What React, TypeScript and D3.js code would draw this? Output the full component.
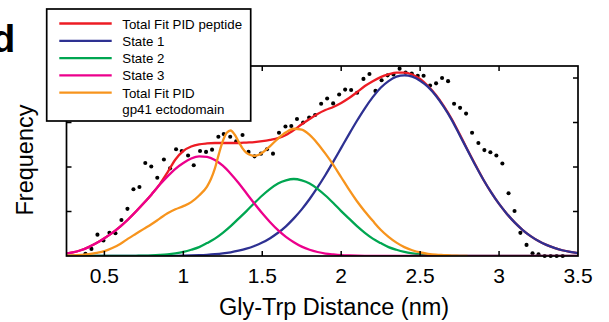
import React from "react";
import * as d3 from "d3";

// ---------- data ----------
const curveX = [0.25,0.3,0.35,0.4,0.45,0.5,0.55,0.6,0.65,0.7,0.75,0.8,0.85,0.9,0.95,1.0,1.05,1.1,1.15,1.2,1.25,1.3,1.35,1.4,1.45,1.5,1.55,1.6,1.65,1.7,1.75,1.8,1.85,1.9,1.95,2.0,2.05,2.1,2.15,2.2,2.25,2.3,2.35,2.4,2.45,2.5,2.55,2.6,2.65,2.7,2.75,2.8,2.85,2.9,2.95,3.0,3.05,3.1,3.15,3.2,3.25,3.3,3.35,3.4,3.45,3.5];

const totalPeptide = [0.05,0.08,0.13,0.2,0.29,0.4,0.52,0.66,0.82,1.0,1.19,1.39,1.61,1.88,2.17,2.36,2.46,2.51,2.53,2.54,2.54,2.54,2.54,2.55,2.56,2.58,2.61,2.65,2.72,2.83,2.96,3.08,3.19,3.28,3.35,3.44,3.55,3.68,3.82,3.93,4.02,4.08,4.12,4.12,4.08,3.98,3.82,3.62,3.37,3.08,2.74,2.39,2.05,1.72,1.43,1.17,0.946,0.75,0.584,0.447,0.336,0.249,0.181,0.129,0.091,0.063];

const state1 = [0,0,0,0,0,0,0,0,0,0,0,0,0,0.003,0.005,0.008,0.012,0.018,0.027,0.04,0.058,0.084,0.119,0.164,0.225,0.302,0.401,0.522,0.668,0.845,1.048,1.28,1.54,1.82,2.12,2.43,2.74,3.04,3.32,3.57,3.78,3.93,4.03,4.06,4.03,3.94,3.8,3.6,3.35,3.06,2.72,2.38,2.04,1.72,1.43,1.17,0.946,0.75,0.584,0.447,0.336,0.249,0.181,0.129,0.091,0.063];

const state2 = [0,0,0,0,0,0,0,0.001,0.002,0.005,0.008,0.014,0.024,0.038,0.061,0.093,0.14,0.2,0.29,0.39,0.52,0.67,0.84,1.01,1.19,1.36,1.51,1.63,1.7,1.73,1.7,1.63,1.51,1.36,1.19,1.01,0.84,0.67,0.52,0.39,0.29,0.2,0.14,0.093,0.061,0.038,0.024,0.014,0.008,0.005,0.002,0.001,0,0,0,0,0,0,0,0,0,0,0,0,0,0];

const state3 = [0.05,0.08,0.13,0.2,0.29,0.4,0.52,0.66,0.82,1.0,1.19,1.39,1.6,1.79,1.96,2.09,2.19,2.24,2.23,2.16,2.03,1.85,1.64,1.41,1.18,0.96,0.76,0.58,0.43,0.31,0.21,0.14,0.09,0.055,0.035,0.02,0.012,0.007,0.004,0.002,0,0,0,0,0,0,0,0,0,0,0,0,0,0,0,0,0,0,0,0,0,0,0,0,0,0];

const gp41X = [0.25,0.3,0.35,0.4,0.45,0.5,0.55,0.6,0.65,0.7,0.75,0.8,0.85,0.9,0.95,1.0,1.05,1.1,1.15,1.175,1.2,1.225,1.25,1.275,1.3,1.325,1.35,1.375,1.4,1.425,1.45,1.475,1.5,1.55,1.6,1.65,1.7,1.75,1.8,1.85,1.9,1.95,2.0,2.05,2.1,2.15,2.2,2.25,2.3,2.35,2.4,2.45,2.5,2.55,2.6,2.65,2.7,2.75,2.8];
const gp41Total = [0.01,0.015,0.025,0.04,0.07,0.11,0.18,0.27,0.39,0.5,0.61,0.72,0.84,0.96,1.05,1.12,1.21,1.36,1.56,1.73,1.97,2.29,2.58,2.77,2.82,2.73,2.57,2.42,2.32,2.27,2.25,2.27,2.32,2.47,2.64,2.78,2.86,2.84,2.72,2.53,2.3,2.05,1.77,1.49,1.23,1.0,0.79,0.59,0.43,0.3,0.2,0.13,0.08,0.05,0.03,0.02,0.01,0.005,0];

const dotX = [0.38,0.418,0.456,0.494,0.532,0.57,0.608,0.646,0.684,0.722,0.759,0.797,0.835,0.877,0.916,0.954,0.99,1.03,1.066,1.106,1.144,1.182,1.222,1.256,1.297,1.335,1.375,1.413,1.451,1.492,1.53,1.568,1.606,1.647,1.684,1.72,1.759,1.797,1.835,1.873,1.911,1.949,1.987,2.025,2.063,2.101,2.141,2.179,2.217,2.256,2.294,2.331,2.37,2.408,2.447,2.485,2.522,2.563,2.601,2.639,2.677,2.715,2.753,2.791,2.829,2.869,2.907,2.945,2.983,3.021,3.06,3.098,3.135,3.174,3.212,3.25,3.289,3.327,3.365,3.403];
const dotY = [0.05,0.16,0.48,0.35,0.52,0.51,0.81,1.06,1.5,1.55,2.09,2.01,1.76,2.17,1.97,2.4,2.36,2.26,2.04,2.36,2.34,2.39,2.68,2.74,2.68,2.58,2.72,2.34,2.24,2.3,2.4,2.3,2.77,2.91,2.92,3.08,3.0,3.11,3.17,3.42,3.54,3.43,3.63,3.74,3.73,3.67,3.98,4.09,3.71,3.95,4.06,4.08,4.21,4.12,4.1,4.05,4.05,3.83,3.88,4.0,3.93,3.42,3.33,3.2,2.77,2.54,2.38,2.33,2.26,2.08,1.41,1.01,0.52,0.25,0.06,0.04,0,0,0,0];

const xTickLabels = [0.5, 1, 1.5, 2, 2.5, 3, 3.5];
const xInnerTicks = [0.5, 1, 1.5, 2, 2.5, 3];
const yInnerTicks = [1, 2, 3, 4];

const legendLabels = ["Total Fit PID peptide", "State 1", "State 2", "State 3", "Total Fit PID"];
const legendSecondLine = "gp41 ectodomain";
const COLORS = {
  red: "#ed1c24",
  blue: "#2e3192",
  green: "#00a651",
  magenta: "#ec008c",
  orange: "#f7941d",
};

const FONT = "'Liberation Sans', Arial, Helvetica, sans-serif";

export default function App() {
  const W = 609, H = 322;
  const L = 66.5, R = 578, T = 66, B = 256;
  const x = d3.scaleLinear().domain([0.26, 3.5]).range([L, R]);
  const y = d3.scaleLinear().domain([0, 4.27]).range([B, T]);

  const line = d3
    .line<[number, number]>()
    .x((d) => x(d[0]))
    .y((d) => y(d[1]))
    .curve(d3.curveMonotoneX);

  const pts = (xs: number[], ys: number[]) => xs.map((v, i) => [v, ys[i]] as [number, number]);

  const series = [
    { key: "red", color: COLORS.red, d: line(pts(curveX, totalPeptide)) },
    { key: "blue", color: COLORS.blue, d: line(pts(curveX, state1)) },
    { key: "green", color: COLORS.green, d: line(pts(curveX, state2)) },
    { key: "magenta", color: COLORS.magenta, d: line(pts(curveX, state3)) },
    { key: "orange", color: COLORS.orange, d: line(pts(gp41X, gp41Total)) },
  ];

  const legendColors = [COLORS.red, COLORS.blue, COLORS.green, COLORS.magenta, COLORS.orange];
  const tickLen = 5;

  return (
    <svg
      width={W}
      height={H}
      viewBox={`0 0 ${W} ${H}`}
      style={{ position: "absolute", left: 0, top: 0, background: "#fff" }}
      fontFamily={FONT}
    >
      <defs>
        <clipPath id="plotClip">
          <rect x={L} y={T - 2} width={R - L} height={B - T + 2} />
        </clipPath>
      </defs>
      <rect x={0} y={0} width={W} height={H} fill="#fff" />

      {/* dots */}
      <g>
        {dotX.map((v, i) => (
          <circle key={i} cx={x(v)} cy={y(dotY[i])} r={2.05} fill="#000" />
        ))}
      </g>

      {/* curves */}
      <g clipPath="url(#plotClip)">
        {series.map((s) => (
          <path key={s.key} d={s.d || ""} fill="none" stroke={s.color} strokeWidth={2.3} strokeLinejoin="round" />
        ))}
      </g>

      {/* frame */}
      <rect x={L} y={T} width={R - L} height={B - T} fill="none" stroke="#000" strokeWidth={1.7} />

      {/* ticks */}
      <g stroke="#000" strokeWidth={1.5}>
        {xInnerTicks.map((t) => (
          <g key={"xt" + t}>
            <line x1={x(t)} x2={x(t)} y1={B} y2={B - tickLen} />
            <line x1={x(t)} x2={x(t)} y1={T} y2={T + tickLen} />
          </g>
        ))}
        {yInnerTicks.map((t) => (
          <g key={"yt" + t}>
            <line x1={L} x2={L + tickLen} y1={y(t)} y2={y(t)} />
            <line x1={R} x2={R - tickLen} y1={y(t)} y2={y(t)} />
          </g>
        ))}
      </g>

      {/* x tick labels */}
      <g fontSize={21} textAnchor="middle" fill="#000">
        {xTickLabels.map((t) => (
          <text key={"xl" + t} x={x(t)} y={282.5}>
            {String(t)}
          </text>
        ))}
      </g>

      {/* axis titles */}
      <text x={334} y={314.5} fontSize={23.5} textAnchor="middle" fill="#000">
        Gly-Trp Distance (nm)
      </text>
      <text transform={`translate(32.5, 160) rotate(-90)`} fontSize={23.5} textAnchor="middle" fill="#000">
        Frequency
      </text>

      {/* panel letter */}
      <text x={-8.5} y={51.5} fontSize={39} fontWeight="bold" fill="#000">
        d
      </text>

      {/* legend */}
      <g>
        <rect x={46.7} y={9} width={204} height={112} fill="#fff" stroke="#000" strokeWidth={1.7} />
        {legendLabels.map((lab, i) => {
          const ly = 23.5 + i * 17.3;
          return (
            <g key={lab}>
              <line x1={59.3} x2={111.7} y1={ly} y2={ly} stroke={legendColors[i]} strokeWidth={2.3} />
              <text x={122.3} y={ly + 5} fontSize={13.3} fill="#000">
                {lab}
              </text>
            </g>
          );
        })}
        <text x={122.3} y={23.5 + 4 * 17.3 + 21.5} fontSize={13.3} fill="#000">
          {legendSecondLine}
        </text>
      </g>
    </svg>
  );
}
